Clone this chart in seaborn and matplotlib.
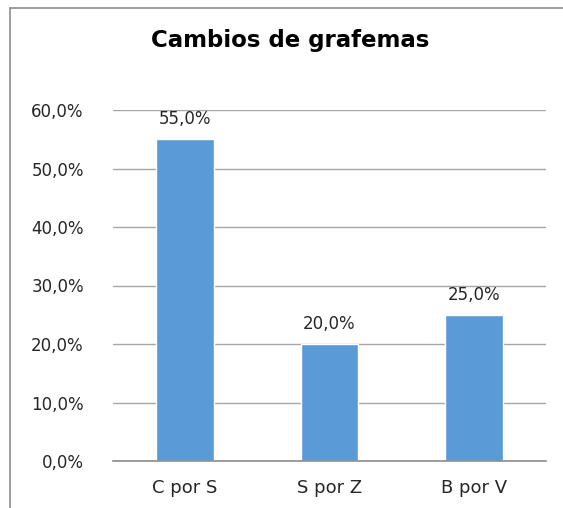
import matplotlib
matplotlib.use("Agg")
import matplotlib.pyplot as plt
import seaborn as sns
import pandas as pd
from matplotlib.lines import Line2D

categories = ["C por S", "S por Z", "B por V"]
values = [55.0, 20.0, 25.0]
yticks = [0, 10, 20, 30, 40, 50, 60]

df = pd.DataFrame({"cat": categories, "val": values})

sns.set_theme(style="white")
plt.rcParams["font.family"] = ["DejaVu Sans"]

fig = plt.figure(figsize=(5.63, 5.08), dpi=100)
ax = fig.add_axes([113 / 563, 1 - 461 / 508, 433 / 563, 351 / 508])

sns.barplot(data=df, x="cat", y="val", color="#5B9BD5", saturation=1,
            width=0.4, ax=ax, zorder=3)

ax.set_ylim(0, 60)
ax.set_yticks(yticks)
ax.set_yticklabels([f"{t:.1f}%".replace(".", ",") for t in yticks], fontsize=12, color="#262626")
ax.tick_params(axis="x", labelsize=13, colors="#262626", pad=13)
ax.tick_params(axis="y", pad=21)
ax.tick_params(length=0)
ax.set_xlabel("")
ax.set_ylabel("")
ax.yaxis.grid(True, color="#A6A6A6", linewidth=1, zorder=0)
for s in ["left", "right", "top"]:
    ax.spines[s].set_visible(False)
ax.spines["bottom"].set_color("#8C8C8C")
ax.spines["bottom"].set_linewidth(1.2)
ax.spines["bottom"].set_zorder(4)

for container in ax.containers:
    ax.bar_label(container, labels=[f"{v:.1f}%".replace(".", ",") for v in values],
                 fontsize=12, color="#262626", padding=8)

fig.text(290 / 563, 1 - 40 / 508, "Cambios de grafemas", ha="center", va="center",
         fontsize=16.5, fontweight="bold", color="black")

# frame lines (top and left)
fig.add_artist(Line2D([10 / 563, 1], [1 - 8 / 508, 1 - 8 / 508], color="#8C8C8C", linewidth=1.2))
fig.add_artist(Line2D([10 / 563, 10 / 563], [0, 1 - 8 / 508], color="#8C8C8C", linewidth=1.2))

fig.savefig("out.png", dpi=100)
